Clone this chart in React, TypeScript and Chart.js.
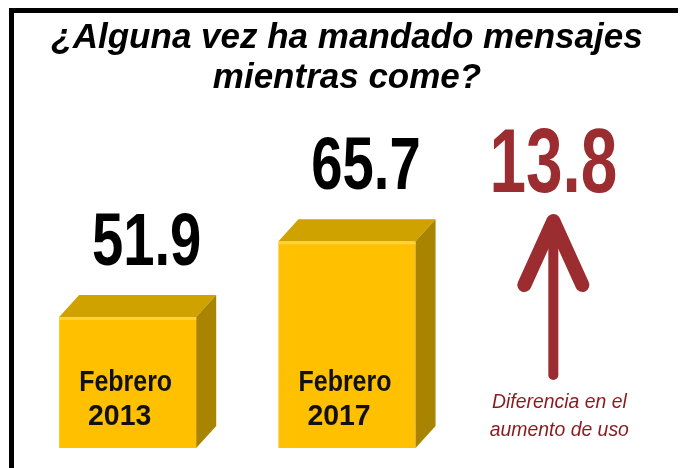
import React, { useEffect, useRef } from "react";
import { Chart, registerables } from "chart.js";

Chart.register(...registerables);

const titleLines = ["¿Alguna vez ha mandado mensajes", "mientras come?"];
const categories = [
  ["Febrero", "2013"],
  ["Febrero", "2017"],
  ["Diferencia en el", "aumento de uso"],
];
const values: (number | null)[] = [51.9, 65.7, null];
const differenceValue = 13.8;
const valueLabels = ["51.9", "65.7"];

const FONT = "'Liberation Sans', Arial, sans-serif";
const FRONT = "#FFC000";
const TOP = "#CFA200";
const SIDE = "#A88400";
const RED = "#9B2C2F";
const CAPTION_RED = "#8A1A1E";

function condensedText(
  ctx: CanvasRenderingContext2D,
  text: string,
  x: number,
  y: number,
  font: string,
  sx: number,
  color: string,
  baseline: CanvasTextBaseline = "alphabetic"
) {
  ctx.save();
  ctx.translate(x, y);
  ctx.scale(sx, 1);
  ctx.font = font;
  ctx.fillStyle = color;
  ctx.textAlign = "center";
  ctx.textBaseline = baseline;
  ctx.fillText(text, 0, 0);
  ctx.restore();
}

const decorPlugin = {
  id: "decor",
  beforeDraw(chart: any) {
    const ctx = chart.ctx as CanvasRenderingContext2D;
    ctx.save();
    ctx.fillStyle = "#ffffff";
    ctx.fillRect(0, 0, chart.width, chart.height);
    ctx.fillStyle = "#000000";
    ctx.fillRect(9, 8, 669, 5);
    ctx.fillRect(9, 8, 5, chart.height - 8);
    ctx.restore();
  },
  afterDatasetsDraw(chart: any) {
    const ctx = chart.ctx as CanvasRenderingContext2D;
    const meta = chart.getDatasetMeta(0);
    const area = chart.chartArea;
    const dx = 20;
    const dy = -22;
    meta.data.forEach((bar: any, i: number) => {
      if (values[i] == null) return;
      const { x, y, width } = bar.getProps(["x", "y", "width"], true);
      const base = area.bottom;
      const left = x - width / 2;
      const right = x + width / 2;
      ctx.save();
      // top face
      ctx.fillStyle = TOP;
      ctx.beginPath();
      ctx.moveTo(left, y);
      ctx.lineTo(left + dx, y + dy);
      ctx.lineTo(right + dx, y + dy);
      ctx.lineTo(right, y);
      ctx.closePath();
      ctx.fill();
      // side face
      ctx.fillStyle = SIDE;
      ctx.beginPath();
      ctx.moveTo(right, y);
      ctx.lineTo(right + dx, y + dy);
      ctx.lineTo(right + dx, base + dy);
      ctx.lineTo(right, base);
      ctx.closePath();
      ctx.fill();
      // front highlight edge
      ctx.fillStyle = "rgba(255,215,70,0.8)";
      ctx.fillRect(left, y, width, 3);
      ctx.restore();

      // value label
      condensedText(ctx, valueLabels[i], x + 19, y - 52, `bold 74px ${FONT}`, 0.76, "#000000");
      // category label inside the bar
      const lines = chart.data.labels[i] as string[];
      condensedText(ctx, lines[0], x - 2, base - 65, `bold 29px ${FONT}`, 0.86, "#111111", "middle");
      condensedText(ctx, lines[1], x - 8, base - 31, `bold 29px ${FONT}`, 0.98, "#111111", "middle");
    });

    // difference column
    const third = meta.data[2];
    const cx = third.x - 13;
    condensedText(ctx, differenceValue.toFixed(1), cx, 192, `bold 90px ${FONT}`, 0.73, RED);

    // arrow
    const tipY = 215;
    const armY = 290;
    const bottomY = 375;
    ctx.save();
    ctx.strokeStyle = RED;
    ctx.lineCap = "round";
    ctx.lineJoin = "round";
    ctx.lineWidth = 10;
    ctx.beginPath();
    ctx.moveTo(cx, tipY + 8);
    ctx.lineTo(cx, bottomY);
    ctx.stroke();
    ctx.lineWidth = 14;
    ctx.beginPath();
    ctx.moveTo(cx - 29, armY - 5);
    ctx.lineTo(cx, tipY + 6);
    ctx.lineTo(cx + 29, armY - 5);
    ctx.stroke();
    ctx.restore();

    // caption
    const cap = chart.data.labels[2] as string[];
    condensedText(ctx, cap[0], cx + 6, area.bottom - 46, `italic 20px ${FONT}`, 0.97, CAPTION_RED, "middle");
    condensedText(ctx, cap[1], cx + 6, area.bottom - 18, `italic 20px ${FONT}`, 0.97, CAPTION_RED, "middle");
  },
};

export default function App() {
  const canvasRef = useRef<HTMLCanvasElement | null>(null);

  useEffect(() => {
    if (!canvasRef.current) return;
    const chart = new Chart(canvasRef.current, {
      type: "bar",
      data: {
        labels: categories,
        datasets: [
          {
            data: values,
            backgroundColor: FRONT,
            borderWidth: 0,
            categoryPercentage: 1,
            barPercentage: 0.625,
          },
        ],
      },
      options: {
        animation: false,
        responsive: true,
        maintainAspectRatio: false,
        layout: { padding: { top: 0, bottom: 20, left: 18, right: 4 } },
        plugins: {
          legend: { display: false },
          tooltip: { enabled: false },
          title: {
            display: true,
            text: titleLines,
            color: "#000000",
            font: { family: FONT, size: 35, weight: "bold", style: "italic", lineHeight: 1.143 },
            padding: { top: 18, bottom: 10 },
          },
        },
        scales: {
          x: { display: false },
          y: { display: false, min: 28, max: 90 },
        },
      },
      plugins: [decorPlugin],
    });
    return () => chart.destroy();
  }, []);

  return (
    <div style={{ position: "fixed", left: 0, top: 0, width: 680, height: 468, background: "#fff" }}>
      <canvas ref={canvasRef} />
    </div>
  );
}
